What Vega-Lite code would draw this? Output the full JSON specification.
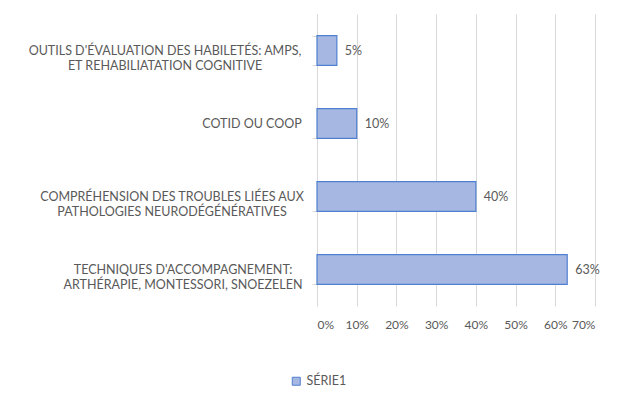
{
  "$schema": "https://vega.github.io/schema/vega-lite/v6.json",
  "autosize": "none",
  "width": 278,
  "height": 292,
  "padding": {"left": 317, "top": 14, "right": 33, "bottom": 114},
  "background": "white",
  "config": {
    "font": "Lato",
    "view": {"stroke": null}
  },
  "data": {
    "values": [
      {"cat": "OUTILS D'ÉVALUATION DES HABILETÉS: AMPS,|ET REHABILIATATION COGNITIVE", "v": 0.05, "s": "SÉRIE1"},
      {"cat": "COTID OU COOP", "v": 0.10, "s": "SÉRIE1"},
      {"cat": "COMPRÉHENSION DES TROUBLES LIÉES AUX|PATHOLOGIES NEURODÉGÉNÉRATIVES", "v": 0.40, "s": "SÉRIE1"},
      {"cat": "TECHNIQUES D'ACCOMPAGNEMENT:|ARTHÉRAPIE, MONTESSORI, SNOEZELEN", "v": 0.63, "s": "SÉRIE1"}
    ]
  },
  "encoding": {
    "y": {
      "field": "cat", "type": "nominal", "sort": null, "title": null,
      "scale": {"paddingInner": 0.59, "paddingOuter": 0.295},
      "axis": {
        "labels": false,
        "tickBand": "extent",
        "tickSize": 5,
        "tickColor": "#d9d9d9",
        "domainColor": "#d9d9d9"
      }
    },
    "x": {
      "field": "v", "type": "quantitative", "title": null,
      "scale": {"domain": [0, 0.7], "nice": false},
      "axis": {
        "format": ".0%",
        "values": [0, 0.1, 0.2, 0.3, 0.4, 0.5, 0.6, 0.7],
        "domain": false,
        "ticks": false,
        "gridColor": "#d9d9d9",
        "labelColor": "#595959",
        "labelFontSize": 12,
        "labelPadding": 13
      }
    }
  },
  "layer": [
    {
      "mark": {"type": "bar", "stroke": "#4f7fd0", "strokeWidth": 1.2},
      "encoding": {
        "color": {
          "field": "s", "type": "nominal",
          "scale": {"range": ["#a6b8e2"]},
          "legend": {
            "title": null,
            "orient": "none",
            "legendX": -27,
            "legendY": 361,
            "symbolType": "square",
            "symbolSize": 64,
            "symbolStrokeColor": "#4f7fd0",
            "symbolStrokeWidth": 1,
            "labelColor": "#595959",
            "labelFontSize": 12.5
          }
        }
      }
    },
    {
      "mark": {"type": "text", "align": "left", "dx": 8, "fontSize": 12.5, "color": "#595959"},
      "encoding": {
        "text": {"field": "v", "type": "quantitative", "format": ".0%"}
      }
    },
    {
      "transform": [{"filter": "indexof(datum.cat, 'OUTILS') == 0"}, {"calculate": "split(datum.cat, '|')", "as": "lab"}],
      "mark": {"type": "text", "align": "center", "baseline": "middle", "dx": -152, "lineHeight": 15, "fontSize": 12.5, "color": "#595959"},
      "encoding": {"x": {"datum": 0}, "text": {"field": "lab"}}
    },
    {
      "transform": [{"filter": "indexof(datum.cat, 'COTID') == 0"}, {"calculate": "split(datum.cat, '|')", "as": "lab"}],
      "mark": {"type": "text", "align": "center", "baseline": "middle", "dx": -65, "lineHeight": 15, "fontSize": 12.5, "color": "#595959"},
      "encoding": {"x": {"datum": 0}, "text": {"field": "lab"}}
    },
    {
      "transform": [{"filter": "indexof(datum.cat, 'COMPR') == 0"}, {"calculate": "split(datum.cat, '|')", "as": "lab"}],
      "mark": {"type": "text", "align": "center", "baseline": "middle", "dx": -145, "lineHeight": 15, "fontSize": 12.5, "color": "#595959"},
      "encoding": {"x": {"datum": 0}, "text": {"field": "lab"}}
    },
    {
      "transform": [{"filter": "indexof(datum.cat, 'TECHN') == 0"}, {"calculate": "split(datum.cat, '|')", "as": "lab"}],
      "mark": {"type": "text", "align": "center", "baseline": "middle", "dx": -134, "lineHeight": 15, "fontSize": 12.5, "color": "#595959"},
      "encoding": {"x": {"datum": 0}, "text": {"field": "lab"}}
    }
  ]
}
